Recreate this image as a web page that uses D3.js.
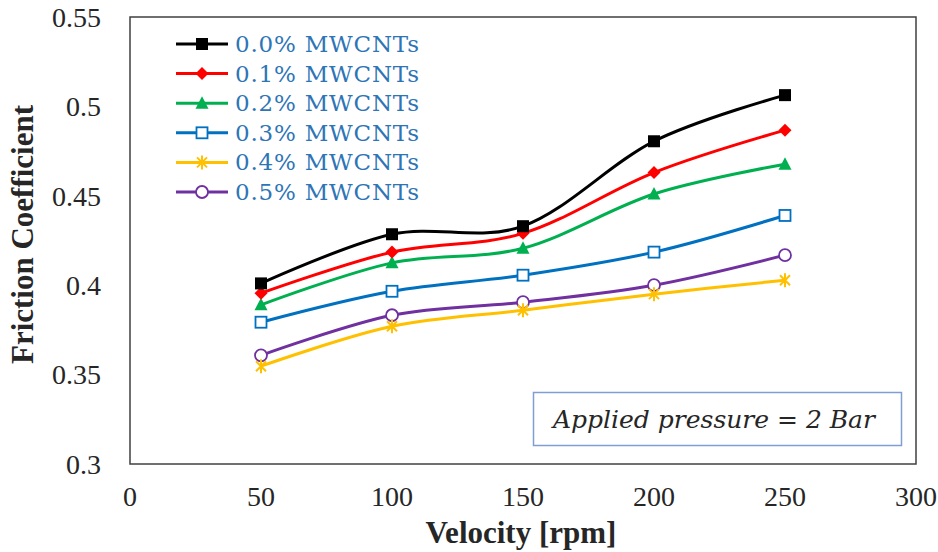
<!DOCTYPE html>
<html>
<head>
<meta charset="utf-8">
<script src="https://cdn.jsdelivr.net/npm/d3@7"></script>
<style>
  body { margin: 0; background: #fff; }
  svg { display: block; }
</style>
</head>
<body>
<div id="chart"></div>
<script>
var velocity = [50, 100, 150, 200, 250];
var seriesNames = ["0.0% MWCNTs", "0.1% MWCNTs", "0.2% MWCNTs", "0.3% MWCNTs", "0.4% MWCNTs", "0.5% MWCNTs"];
var mw00 = [0.401, 0.4285, 0.433, 0.4805, 0.5063];
var mw01 = [0.3955, 0.4185, 0.429, 0.463, 0.4867];
var mw02 = [0.389, 0.4125, 0.4207, 0.451, 0.4677];
var mw03 = [0.3793, 0.3966, 0.4056, 0.4185, 0.439];
var mw04 = [0.3547, 0.377, 0.386, 0.395, 0.4028];
var mw05 = [0.3608, 0.3832, 0.3905, 0.400, 0.4168];
var xTicks = [0, 50, 100, 150, 200, 250, 300];
var yTicks = [0.3, 0.35, 0.4, 0.45, 0.5, 0.55];

var colors = ["#000000", "#ff0000", "#00b050", "#0070c0", "#ffc000", "#7030a0"];
var markers = ["square", "diamond", "triangle", "hollowSquare", "star", "circle"];
var allSeries = [mw00, mw01, mw02, mw03, mw04, mw05];

var serif = "'Liberation Serif', 'Times New Roman', serif";

var width = 938, height = 552;
var margin = {top: 17, left: 130, right: 22, bottom: 88};

var svg = d3.select("#chart")
            .append("svg")
            .attr("width", width)
            .attr("height", height);

var x = d3.scaleLinear()
          .domain([0, 300])
          .range([margin.left, width - margin.right]);

var y = d3.scaleLinear()
          .domain([0.3, 0.55])
          .range([height - margin.bottom, margin.top]);

// plot frame
svg.append("rect")
   .attr("x", x(0))
   .attr("y", y(0.55))
   .attr("width", x(300) - x(0))
   .attr("height", y(0.3) - y(0.55))
   .attr("fill", "none")
   .attr("stroke", "#404040")
   .attr("stroke-width", 1.5);

// tick labels
svg.selectAll(".ytick")
   .data(yTicks)
   .enter()
   .append("text")
       .attr("x", 101)
       .attr("y", function(d) { return y(d); })
       .attr("dy", "0.35em")
       .attr("text-anchor", "end")
       .attr("font-family", serif)
       .attr("font-size", 28)
       .attr("fill", "#262626")
       .text(function(d) { return d; });

svg.selectAll(".xtick")
   .data(xTicks)
   .enter()
   .append("text")
       .attr("x", function(d) { return x(d); })
       .attr("y", 506)
       .attr("text-anchor", "middle")
       .attr("font-family", serif)
       .attr("font-size", 28)
       .attr("fill", "#262626")
       .text(function(d) { return d; });

// axis titles
svg.append("text")
   .attr("x", (x(0) + x(300)) / 2 - 2)
   .attr("y", 543)
   .attr("text-anchor", "middle")
   .attr("font-family", serif)
   .attr("font-weight", "bold")
   .attr("font-size", 31)
   .attr("fill", "#262626")
   .text("Velocity [rpm]");

svg.append("text")
   .attr("transform", "translate(33," + ((y(0.3) + y(0.55)) / 2 - 6) + ") rotate(-90)")
   .attr("text-anchor", "middle")
   .attr("font-family", serif)
   .attr("font-weight", "bold")
   .attr("font-size", 31)
   .attr("fill", "#262626")
   .text("Friction Coefficient");

// marker drawing
function drawMarker(g, type, color) {
    if (type === "square") {
        g.append("rect").attr("x", -6).attr("y", -6).attr("width", 12).attr("height", 12)
         .attr("fill", color);
    } else if (type === "diamond") {
        g.append("path").attr("d", "M0,-6.5L6.5,0L0,6.5L-6.5,0Z").attr("fill", color);
    } else if (type === "triangle") {
        g.append("path").attr("d", "M0,-7L6.5,5.5L-6.5,5.5Z").attr("fill", color);
    } else if (type === "hollowSquare") {
        g.append("rect").attr("x", -5.5).attr("y", -5.5).attr("width", 11).attr("height", 11)
         .attr("fill", "#fff").attr("stroke", color).attr("stroke-width", 1.8);
    } else if (type === "star") {
        g.append("path").attr("d", "M-5,-5L5,5M-5,5L5,-5M0,-7L0,7")
         .attr("stroke", color).attr("stroke-width", 2).attr("fill", "none");
    } else if (type === "circle") {
        g.append("circle").attr("r", 6).attr("fill", "#fff")
         .attr("stroke", color).attr("stroke-width", 1.8);
    }
}

var line = d3.line()
             .x(function(d, i) { return x(velocity[i]); })
             .y(function(d) { return y(d); })
             .curve(d3.curveCardinal.tension(0));

// draw from last to first so black stays on top
for (var s = allSeries.length - 1; s >= 0; s--) {
    svg.append("path")
       .attr("d", line(allSeries[s]))
       .attr("fill", "none")
       .attr("stroke", colors[s])
       .attr("stroke-width", 3);

    allSeries[s].forEach(function(v, i) {
        var g = svg.append("g")
                   .attr("transform", "translate(" + x(velocity[i]) + "," + y(v) + ")");
        drawMarker(g, markers[s], colors[s]);
    });
}

// legend
var legend = svg.append("g");
seriesNames.forEach(function(name, i) {
    var ly = 44 + i * 29.6;
    legend.append("line")
          .attr("x1", 176).attr("x2", 228)
          .attr("y1", ly).attr("y2", ly)
          .attr("stroke", colors[i])
          .attr("stroke-width", 3);
    var g = legend.append("g").attr("transform", "translate(202," + ly + ")");
    drawMarker(g, markers[i], colors[i]);
    legend.append("text")
          .attr("x", 235)
          .attr("y", ly)
          .attr("dy", "0.35em")
          .attr("font-family", "'DejaVu Serif', serif")
          .attr("font-size", 23)
          .attr("letter-spacing", 0.8)
          .attr("fill", "#2e75b6")
          .text(name);
});

// annotation box
svg.append("rect")
   .attr("x", 533.5).attr("y", 392.5)
   .attr("width", 368).attr("height", 53)
   .attr("fill", "#fff")
   .attr("stroke", "#7f9fd4")
   .attr("stroke-width", 1.5);

svg.append("text")
   .attr("x", 714)
   .attr("y", 419)
   .attr("dy", "0.35em")
   .attr("text-anchor", "middle")
   .attr("font-family", "'DejaVu Serif', serif")
   .attr("font-style", "italic")
   .attr("font-size", 25)
   .attr("fill", "#262626")
   .text("Applied pressure = 2 Bar");
</script>
</body>
</html>
